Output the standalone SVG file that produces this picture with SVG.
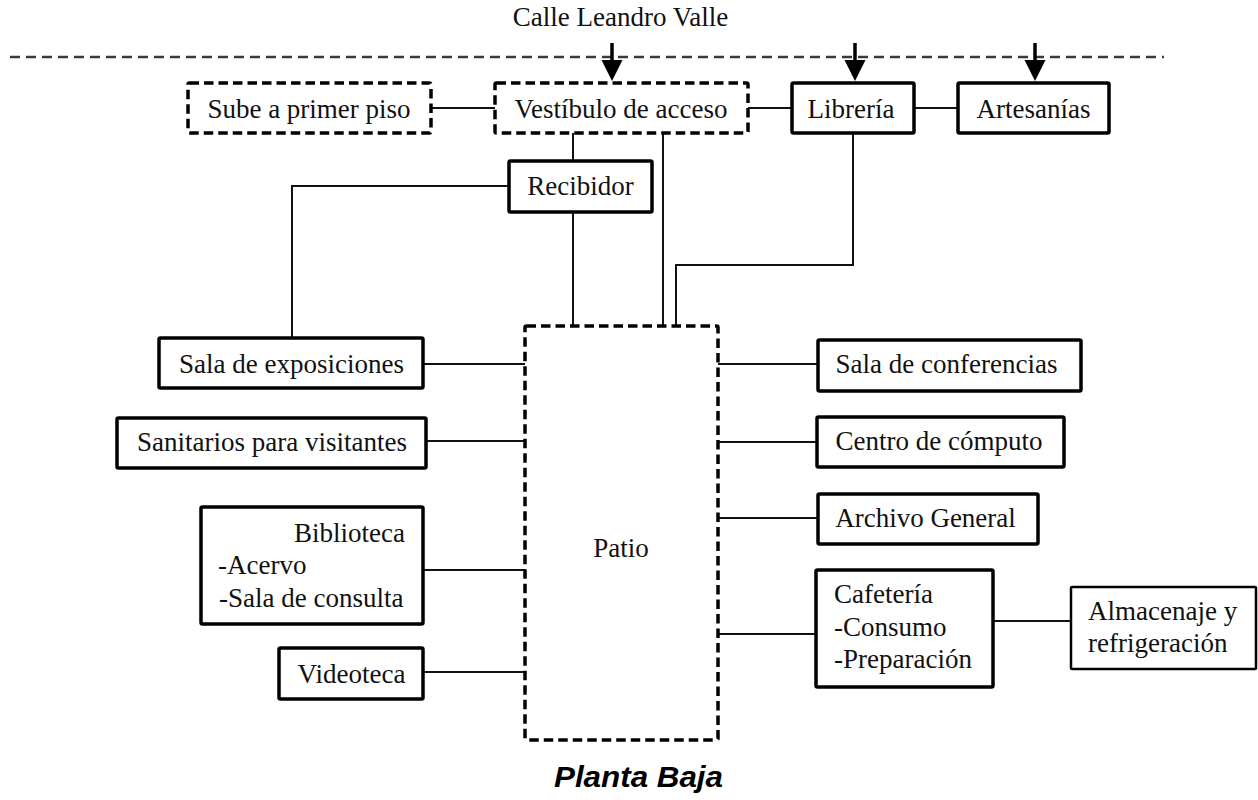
<svg xmlns="http://www.w3.org/2000/svg" width="1258" height="800" viewBox="0 0 1258 800">
<style>
text{font-family:"Liberation Serif","Times New Roman",serif;font-size:27px;fill:#111}
.c{text-anchor:middle}
.r{text-anchor:end}
.box{fill:#fff;stroke:#000;stroke-width:3.5;stroke-linejoin:round}
.thin{fill:#fff;stroke:#000;stroke-width:2.5;stroke-linejoin:round}
.dbox{fill:#fff;stroke:#000;stroke-width:3.5;stroke-dasharray:9.5 5;stroke-linejoin:round}
.ln{fill:none;stroke:#111;stroke-width:2}
.street{fill:none;stroke:#3a3a3a;stroke-width:2.5;stroke-dasharray:10 6}
.title{font-family:"Liberation Sans",Arial,sans-serif;font-weight:bold;font-style:italic;font-size:30px;fill:#000}
</style>
<defs>
<g id="arr">
<line x1="0" y1="43" x2="0" y2="62" stroke="#000" stroke-width="3.5"/>
<polygon points="-10.5,60 10.5,60 0,81" fill="#000"/>
</g>
</defs>
<text class="c" x="620.5" y="26">Calle Leandro Valle</text>
<line class="street" x1="10" y1="57" x2="1164" y2="57"/>
<g id="connectors">
<line class="ln" x1="431" y1="108" x2="495" y2="108"/>
<line class="ln" x1="748" y1="108" x2="792" y2="108"/>
<line class="ln" x1="914" y1="108" x2="958" y2="108"/>
<line class="ln" x1="573" y1="133" x2="573" y2="161"/>
<line class="ln" x1="573" y1="212" x2="573" y2="326"/>
<line class="ln" x1="663" y1="133" x2="663" y2="326"/>
<polyline class="ln" points="853,133 853,265 676,265 676,326"/>
<polyline class="ln" points="509,186 292,186 292,338"/>
<line class="ln" x1="423" y1="364" x2="525" y2="364"/>
<line class="ln" x1="426" y1="441" x2="525" y2="441"/>
<line class="ln" x1="423" y1="570" x2="525" y2="570"/>
<line class="ln" x1="423" y1="672" x2="525" y2="672"/>
<line class="ln" x1="718" y1="364" x2="818" y2="364"/>
<line class="ln" x1="718" y1="442" x2="817" y2="442"/>
<line class="ln" x1="718" y1="518" x2="818" y2="518"/>
<line class="ln" x1="718" y1="634" x2="816" y2="634"/>
<line class="ln" x1="993" y1="621" x2="1071" y2="621"/>
<use href="#arr" x="612"/>
<use href="#arr" x="855"/>
<use href="#arr" x="1035"/>
</g>
<g id="sube"><rect class="dbox" x="188" y="83" width="243" height="50" rx="1.5"/><text class="c" x="309" y="118">Sube a primer piso</text></g>
<g id="vestibulo"><rect class="dbox" x="495" y="83" width="253" height="50" rx="1.5"/><text class="c" x="621" y="118">Vestíbulo de acceso</text></g>
<g id="libreria"><rect class="box" x="792" y="83" width="122" height="50" rx="1.5"/><text class="c" x="851" y="118">Librería</text></g>
<g id="artesanias"><rect class="box" x="958" y="83" width="151" height="50" rx="1.5"/><text class="c" x="1033.5" y="118">Artesanías</text></g>
<g id="recibidor"><rect class="box" x="509" y="161" width="143" height="51" rx="1.5"/><text class="c" x="580.5" y="195">Recibidor</text></g>
<g id="patio"><rect class="dbox" x="525" y="326" width="193" height="414" rx="1.5"/><text class="c" x="621" y="557">Patio</text></g>
<g id="sala-exposiciones"><rect class="box" x="159" y="338" width="264" height="50" rx="1.5"/><text class="c" x="291.5" y="373">Sala de exposiciones</text></g>
<g id="sanitarios"><rect class="box" x="117" y="418" width="309" height="50" rx="1.5"/><text class="c" x="272" y="451">Sanitarios para visitantes</text></g>
<g id="biblioteca"><rect class="box" x="201" y="507" width="222" height="117" rx="1.5"/><text class="r" x="405" y="542">Biblioteca</text><text x="218" y="574">-Acervo</text><text x="219" y="607">-Sala de consulta</text></g>
<g id="videoteca"><rect class="box" x="279" y="648" width="144" height="51" rx="1.5"/><text class="c" x="351.5" y="683">Videoteca</text></g>
<g id="sala-conferencias"><rect class="box" x="818" y="340" width="263" height="51" rx="1.5"/><text class="c" x="946.5" y="373">Sala de conferencias</text></g>
<g id="centro-computo"><rect class="box" x="817" y="417" width="247" height="50" rx="1.5"/><text class="c" x="939" y="450">Centro de cómputo</text></g>
<g id="archivo"><rect class="box" x="818" y="494" width="220" height="50" rx="1.5"/><text class="c" x="925.5" y="527">Archivo General</text></g>
<g id="cafeteria"><rect class="box" x="816" y="570" width="177" height="117" rx="1.5"/><text x="834" y="603">Cafetería</text><text x="834" y="636">-Consumo</text><text x="834" y="668">-Preparación</text></g>
<g id="almacenaje"><rect class="thin" x="1071" y="587" width="185" height="82" rx="1"/><text x="1088" y="620">Almacenaje y</text><text x="1088" y="652">refrigeración</text></g>
<text class="title c" x="638.5" y="787" textLength="169" lengthAdjust="spacingAndGlyphs">Planta Baja</text>
</svg>
